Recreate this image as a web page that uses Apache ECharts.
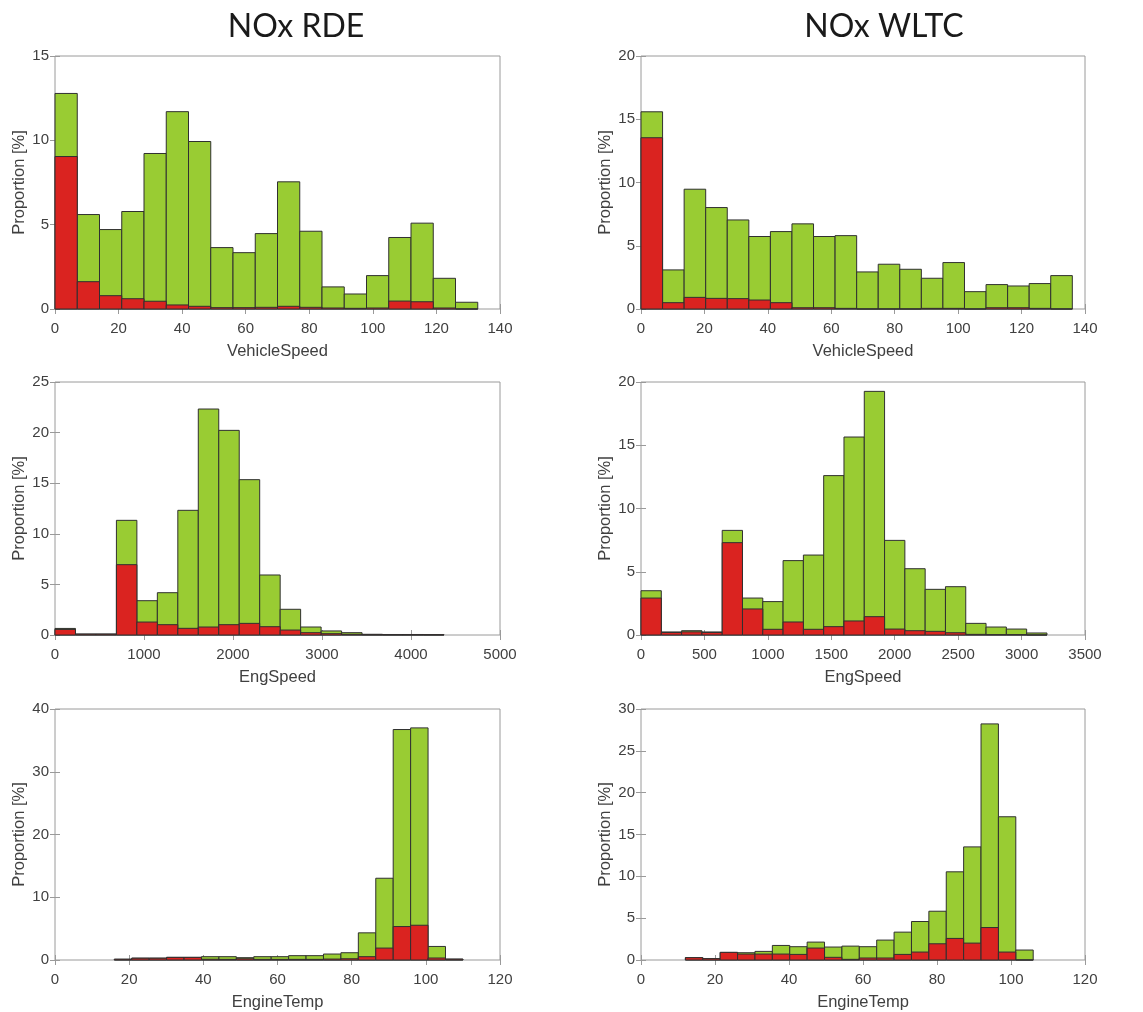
<!DOCTYPE html>
<html><head><meta charset="utf-8">
<script src="https://cdn.jsdelivr.net/npm/echarts@6/dist/echarts.min.js"></script>
<style>html,body{margin:0;padding:0;background:#fff}#c{width:1143px;height:1012px}</style>
</head><body><div id="c"></div>
<script>
// ---- NOx RDE : VehicleSpeed ----
const rdeSpeedEdges = [0,7,14,21,28,35,42,49,56,63,70,77,84,91,98,105,112,119,126,133];
const rdeSpeedAll   = [12.78,5.60,4.71,5.78,9.22,11.70,9.93,3.64,3.34,4.47,7.54,4.61,1.31,0.89,1.98,4.24,5.09,1.82,0.40];
const rdeSpeedNox   = [9.04,1.62,0.79,0.61,0.46,0.24,0.16,0.08,0.08,0.10,0.16,0.10,0.06,0.04,0.06,0.47,0.43,0.06,0];
// ---- NOx WLTC : VehicleSpeed ----
const wltcSpeedEdges = [0,6.8,13.6,20.4,27.2,34,40.8,47.6,54.4,61.2,68,74.8,81.6,88.4,95.2,102,108.8,115.6,122.4,129.2,136];
const wltcSpeedAll   = [15.59,3.09,9.47,8.02,7.04,5.73,6.12,6.73,5.73,5.80,2.93,3.54,3.14,2.43,3.67,1.37,1.93,1.82,2.01,2.64];
const wltcSpeedNox   = [13.54,0.50,0.92,0.84,0.82,0.71,0.50,0.10,0.10,0.05,0,0,0,0.05,0.05,0,0.10,0.10,0.05,0];
// ---- NOx RDE : EngSpeed ----
const rdeEngEdges = [0,230,460,690,920,1150,1380,1610,1840,2070,2300,2530,2760,2990,3220,3450,3680,3910,4140,4370];
const rdeEngAll   = [0.65,0.10,0.10,11.33,3.39,4.18,12.32,22.33,20.22,15.35,5.93,2.54,0.79,0.40,0.23,0.07,0.05,0.05,0.04];
const rdeEngNox   = [0.55,0.08,0.08,6.95,1.28,1.02,0.66,0.79,1.02,1.15,0.82,0.49,0.23,0.13,0.07,0.03,0.02,0.02,0.02];
// ---- NOx WLTC : EngSpeed ----
const wltcEngEdges = [0,160,320,480,640,800,960,1120,1280,1440,1600,1760,1920,2080,2240,2400,2560,2720,2880,3040,3200];
const wltcEngAll   = [3.50,0.24,0.34,0.24,8.27,2.92,2.64,5.88,6.32,12.60,15.65,19.26,7.48,5.24,3.61,3.82,0.92,0.63,0.47,0.16];
const wltcEngNox   = [2.92,0.20,0.25,0.20,7.30,2.06,0.45,1.03,0.45,0.66,1.11,1.45,0.47,0.34,0.29,0.18,0.05,0.03,0.03,0];
// ---- NOx RDE : EngineTemp ----
const rdeTempEdges = [16,20.7,25.4,30.1,34.8,39.5,44.2,48.9,53.6,58.3,63,67.7,72.4,77.1,81.8,86.5,91.2,95.9,100.6,105.3,110];
const rdeTempAll   = [0.12,0.30,0.30,0.42,0.42,0.53,0.53,0.37,0.53,0.53,0.69,0.69,0.95,1.16,4.33,13.03,36.73,36.99,2.16,0.15];
const rdeTempNox   = [0.12,0.28,0.28,0.42,0.42,0.12,0.10,0.20,0.10,0.10,0.10,0.10,0.15,0.20,0.53,1.90,5.33,5.54,0.32,0.12];
// ---- NOx WLTC : EngineTemp ----
const wltcTempEdges = [12,16.7,21.4,26.1,30.8,35.5,40.2,44.9,49.6,54.3,59,63.7,68.4,73.1,77.8,82.5,87.2,91.9,96.6,101.3,106];
const wltcTempAll   = [0.28,0.16,0.91,0.87,1.03,1.74,1.59,2.14,1.55,1.66,1.59,2.38,3.33,4.60,5.83,10.54,13.52,28.22,17.12,1.19];
const wltcTempNox   = [0.28,0.16,0.91,0.71,0.71,0.71,0.67,1.43,0.32,0.08,0.24,0.24,0.67,0.95,1.94,2.58,2.02,3.88,0.95,0];

const titles = ['NOx RDE', 'NOx WLTC'];
const yName = 'Proportion [%]';

const panels = [
  {edges: rdeSpeedEdges,  all: rdeSpeedAll,  nox: rdeSpeedNox,  xMax:140,  xInt:20,   yMax:15, yInt:5,  xName:'VehicleSpeed', grid:{left:55,  top:56,  width:445, height:253}},
  {edges: wltcSpeedEdges, all: wltcSpeedAll, nox: wltcSpeedNox, xMax:140,  xInt:20,   yMax:20, yInt:5,  xName:'VehicleSpeed', grid:{left:641, top:56,  width:444, height:253}},
  {edges: rdeEngEdges,    all: rdeEngAll,    nox: rdeEngNox,    xMax:5000, xInt:1000, yMax:25, yInt:5,  xName:'EngSpeed',     grid:{left:55,  top:382, width:445, height:253}},
  {edges: wltcEngEdges,   all: wltcEngAll,   nox: wltcEngNox,   xMax:3500, xInt:500,  yMax:20, yInt:5,  xName:'EngSpeed',     grid:{left:641, top:382, width:444, height:253}},
  {edges: rdeTempEdges,   all: rdeTempAll,   nox: rdeTempNox,   xMax:120,  xInt:20,   yMax:40, yInt:10, xName:'EngineTemp',   grid:{left:55,  top:709, width:445, height:252}},
  {edges: wltcTempEdges,  all: wltcTempAll,  nox: wltcTempNox,  xMax:120,  xInt:20,   yMax:30, yInt:5,  xName:'EngineTemp',   grid:{left:641, top:709, width:444, height:252}}
];

const GREEN = '#99cc33', RED = '#da2320', EDGE = '#303030';
const LBL = '#404040', AX = '#9a9a9a', FONT = '"Liberation Sans", Arial, sans-serif';

function toBins(edges, vals) {
  return vals.map((v, i) => [edges[i], edges[i + 1], v]);
}
function makeRender(fill) {
  return function (params, api) {
    const p0 = api.coord([api.value(0), api.value(2)]);
    const p1 = api.coord([api.value(1), 0]);
    return {
      type: 'rect',
      shape: {x: p0[0], y: p0[1], width: p1[0] - p0[0], height: p1[1] - p0[1]},
      style: {fill: fill, stroke: EDGE, lineWidth: 1}
    };
  };
}
const plain = v => String(v);

const grids = [], xAxes = [], yAxes = [], series = [];
panels.forEach((p, i) => {
  grids.push(Object.assign({show: true, borderColor: AX, borderWidth: 1, backgroundColor: '#fff'}, p.grid));
  const tick = {show: true, inside: true, length: 5, lineStyle: {color: AX}};
  xAxes.push({gridIndex: i, type: 'value', position: 'bottom', min: 0, max: p.xMax, interval: p.xInt,
    axisLine: {show: false}, axisTick: tick, splitLine: {show: false},
    axisLabel: {margin: 12, fontSize: 15, color: LBL, fontFamily: FONT, formatter: plain},
    name: p.xName, nameLocation: 'middle', nameGap: 34,
    nameTextStyle: {fontSize: 16.5, color: LBL, fontFamily: FONT}});
  xAxes.push({gridIndex: i, type: 'value', position: 'top', min: 0, max: p.xMax, interval: p.xInt,
    axisLine: {show: false}, axisTick: tick, splitLine: {show: false}, axisLabel: {show: false}});
  yAxes.push({gridIndex: i, type: 'value', position: 'left', min: 0, max: p.yMax, interval: p.yInt,
    axisLine: {show: false}, axisTick: tick, splitLine: {show: false},
    axisLabel: {margin: 6, fontSize: 15, color: LBL, fontFamily: FONT, formatter: plain},
    name: yName, nameLocation: 'middle', nameGap: 27, nameRotate: 90,
    nameTextStyle: {fontSize: 16.5, color: LBL, fontFamily: FONT}});
  yAxes.push({gridIndex: i, type: 'value', position: 'right', min: 0, max: p.yMax, interval: p.yInt,
    axisLine: {show: false}, axisTick: tick, splitLine: {show: false}, axisLabel: {show: false}});
  series.push({type: 'custom', xAxisIndex: 2 * i, yAxisIndex: 2 * i, renderItem: makeRender(GREEN),
    encode: {x: [0, 1], y: 2}, data: toBins(p.edges, p.all), z: 2, silent: true});
  series.push({type: 'custom', xAxisIndex: 2 * i, yAxisIndex: 2 * i, renderItem: makeRender(RED),
    encode: {x: [0, 1], y: 2}, data: toBins(p.edges, p.nox), z: 3, silent: true});
});

const chart = echarts.init(document.getElementById('c'), null, {renderer: 'canvas'});
chart.setOption({
  backgroundColor: '#fff',
  animation: false,
  grid: grids, xAxis: xAxes, yAxis: yAxes, series: series,
  graphic: [
    {type: 'text', x: 296, y: 27, style: {text: titles[0], align: 'center', verticalAlign: 'middle', font: '32px Lato, "Open Sans", sans-serif', fill: '#1a1a1a'}},
    {type: 'text', x: 884, y: 27, style: {text: titles[1], align: 'center', verticalAlign: 'middle', font: '32px Lato, "Open Sans", sans-serif', fill: '#1a1a1a'}}
  ]
});
</script></body></html>
